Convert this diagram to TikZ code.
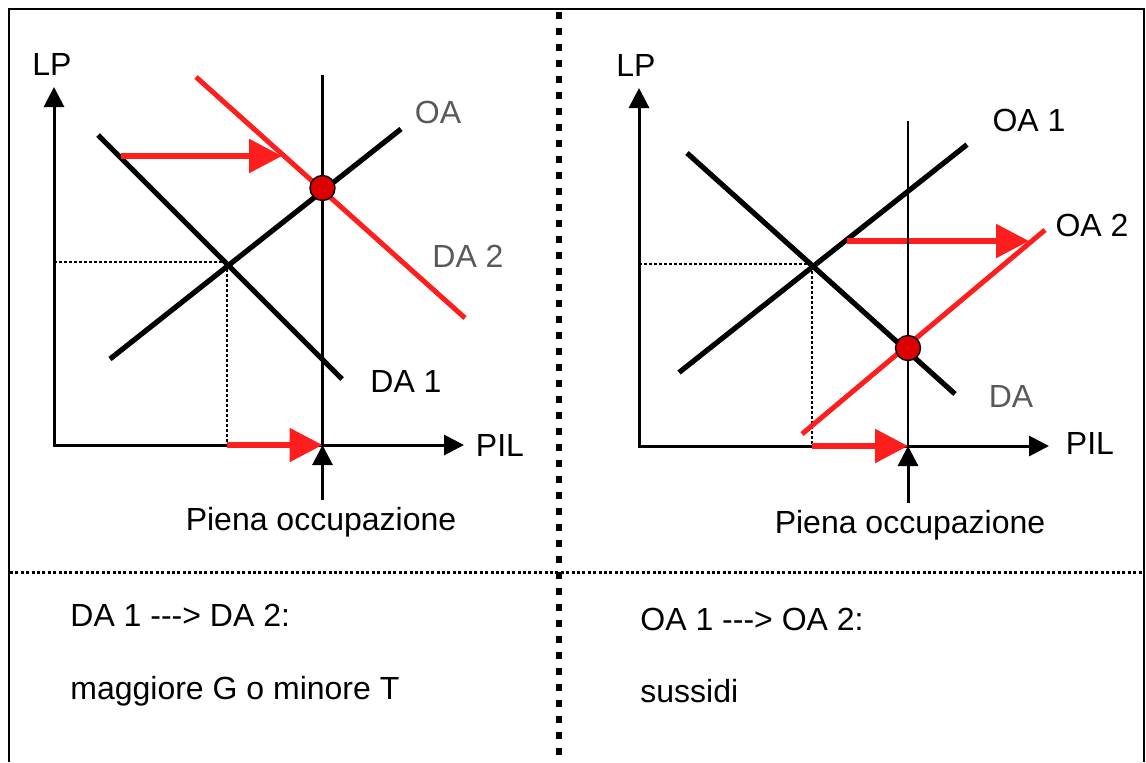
\documentclass[tikz,border=0pt]{standalone}
\usepackage{fontspec}
\setmainfont{Liberation Sans}
\usetikzlibrary{arrows.meta}

\definecolor{shiftred}{RGB}{255,30,30}
\definecolor{dotred}{RGB}{220,0,0}

\begin{document}
\begin{tikzpicture}[x=0.5pt,y=-0.5pt,>={Triangle[length=10pt,width=10pt]},
	every node/.style={font=\fontsize{16}{19}\selectfont},
	axis/.style={line width=1.5pt,<->},
	curve/.style={line width=2.6pt},
	redcurve/.style={line width=2.5pt,shiftred},
	shiftarrow/.style={line width=2.8pt,shiftred,-{Triangle[length=16.5pt,width=16.5pt]}},
	guide/.style={line width=1pt,dash pattern=on 1.5pt off 1pt},
	fullemp/.style={line width=1.2pt},
	faint/.style={text=black!65},
	eqdot/.style={circle,draw=black,line width=0.7pt,fill=dotred,minimum size=12.5pt,inner sep=0pt},
	caption/.style={anchor=base west,inner sep=0pt}]
	\useasboundingbox (0,0) rectangle (1146,762);

	% frame and the two dividers
	\draw[line width=1pt] (9,762) -- (9,9) -- (1144,9) -- (1144,762);
	\draw[line width=3pt,dash pattern=on 3.5pt off 4.5pt] (558.5,12) -- (558.5,762);
	\draw[line width=1.5pt,dash pattern=on 1.5pt off 1.2pt] (10,572) -- (1143,572);

	% define the coordinates of the left axes
	\coordinate (O1) at (54,445);
	\coordinate (Y1) at (54,87);
	\coordinate (X1) at (464,445);
	\draw[axis] (Y1) -- (O1) -- (X1);
	\node (lp1) at (52,64) {LP};
	\node (pil1) at (500,445) {PIL};

	% demand and supply of the left graph
	\coordinate (A) at (98,135);
	\coordinate (B) at (342,379);
	\coordinate (C) at (110,359);
	\coordinate (D) at (401,129);
	\coordinate (E) at (196,77);
	\coordinate (F) at (465,318);
	\coordinate (Q1) at (227,262);
	\draw[guide] (Q1 -| O1) -- (Q1) -- (Q1 |- O1);
	\draw[curve] (A)--(B) (C)--(D);
	\draw[redcurve] (E)--(F);
	\node[faint] (oa) at (438,112) {OA};
	\node[faint] (da2) at (468,256) {DA 2};
	\node (da1) at (406,381) {DA 1};

	% shift of the demand
	\coordinate (I) at (121,156);
	\coordinate (J) at (282,156);
	\coordinate (G) at (322.5,75);
	\coordinate (H) at (322.5,445);
	\draw[shiftarrow] (I) -- (J);
	\draw[shiftarrow] (Q1 |- O1) -- (H);
	\draw[fullemp] (G) -- (H);
	\node[eqdot] (eq1) at (322.5,188) {};

	\node[anchor=base] (po1) at (321,530) {Piena occupazione};
	\draw[->,line width=1.5pt] (po1.north -| H) -- (H);

	% define the coordinates of the right axes
	\coordinate (O2) at (639,446);
	\coordinate (Y2) at (639,88);
	\coordinate (X2) at (1049,446);
	\draw[axis] (Y2) -- (O2) -- (X2);
	\node (lp2) at (636,65) {LP};
	\node (pil2) at (1090,443) {PIL};

	% demand and supply of the right graph
	\coordinate (K) at (687,153);
	\coordinate (L) at (955,394);
	\coordinate (M) at (679,372.5);
	\coordinate (N) at (967,144.6);
	\coordinate (P) at (802,434);
	\coordinate (R) at (1045,230);
	\coordinate (Q2) at (812,264);
	\draw[guide] (Q2 -| O2) -- (Q2) -- (Q2 |- O2);
	\draw[curve] (K)--(L) (M)--(N);
	\draw[redcurve] (P)--(R);
	\node (oa1) at (1029,120) {OA 1};
	\node (oa2) at (1092,225) {OA 2};
	\node[faint] (da) at (1011,396) {DA};

	% shift of the supply
	\coordinate (S) at (847,241);
	\coordinate (T) at (1029,241);
	\coordinate (U) at (908,121);
	\coordinate (V) at (908,446);
	\draw[shiftarrow] (S) -- (T);
	\draw[shiftarrow] (Q2 |- O2) -- (V);
	\draw[fullemp] (U) -- (V);
	\node[eqdot] (eq2) at (908,348) {};

	\node[anchor=base] (po2) at (910,533) {Piena occupazione};
	\draw[->,line width=1.5pt] (po2.north -| V) -- (V);

	% captions below
	\node[caption] (cap1) at (70,626) {DA 1 -{}-{}-> DA 2:};
	\node[caption] (why1) at (70,699) {maggiore G o minore T};
	\node[caption] (cap2) at (640,630) {OA 1 -{}-{}-> OA 2:};
	\node[caption] (why2) at (640,702) {sussidi};
\end{tikzpicture}
\end{document}
